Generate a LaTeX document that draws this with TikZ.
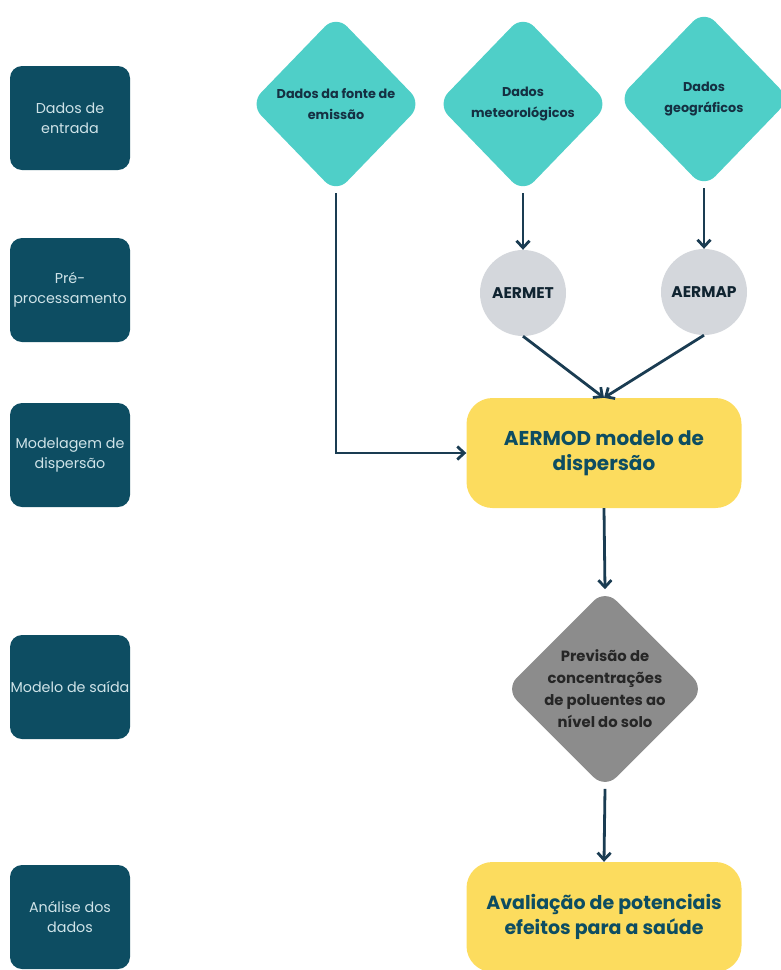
\documentclass[tikz,border=0pt]{standalone}
\usepackage{fontspec}
\setmainfont{Poppins}
\usetikzlibrary{shapes.geometric,arrows.meta,positioning}
\definecolor{faseazul}{HTML}{0D4D62}
\definecolor{fasetexto}{HTML}{CFE3E8}
\definecolor{turquesa}{HTML}{4FCFC8}
\definecolor{amarelo}{HTML}{FCDC5E}
\definecolor{cinzaclaro}{HTML}{D4D7DC}
\definecolor{cinza}{HTML}{8C8C8C}
\definecolor{seta}{HTML}{1A3C52}

\tikzset{fase/.style={rectangle,rounded corners=12pt,fill=faseazul,text=fasetexto,
           minimum width=120pt,minimum height=104pt,inner sep=0pt,align=center,
           font=\fontsize{14.3}{20}\selectfont},
         dado/.style={diamond,aspect=1,rounded corners=16pt,fill=turquesa,inner sep=0pt,
           minimum width=172pt,minimum height=178pt,align=center,text=seta!80!black,
           font=\bfseries\fontsize{12.8}{21}\selectfont},
         proc/.style={circle,fill=cinzaclaro,minimum size=86pt,inner sep=0pt,
           text=seta!60!black,font=\bfseries\fontsize{15.5}{17}\selectfont},
         modelo/.style={rectangle,rounded corners=26pt,fill=amarelo,minimum width=275pt,
           minimum height=110pt,inner sep=0pt,align=center,text=faseazul,
           font=\bfseries\fontsize{20}{25}\selectfont},
         previsao/.style={diamond,aspect=1,rounded corners=16pt,fill=cinza,inner sep=0pt,
           minimum width=182pt,minimum height=184pt,align=center,text=black!85,
           font=\bfseries\fontsize{14.8}{22}\selectfont},
         seta/.style={draw=seta,line width=2.8pt,-{Straight Barb[length=7pt,width=13pt]}}}

\begin{document}
\begin{tikzpicture}[x=1pt,y=-1pt]
  \useasboundingbox (0,0) rectangle (781,970);
  % etapas
  \foreach \y/\n/\t in {118/1/{Dados de\\entrada},290/2/{Pré-\\processamento},
      455/3/{Modelagem de\\dispersão},687/4/{Modelo de saída},917/5/{Análise dos\\dados}}
    {\node[fase] (e\n) at (70,\y) {\t};}
  % dados de entrada
  \node[dado] (d1) at (336,104) {Dados da fonte de\\emissão};
  \node[dado] (d2) at (523,104) {Dados\\meteorológicos};
  \node[dado] (d3) at (704,99) {Dados\\geográficos};
  \node[proc] (met) at (523,293) {AERMET};
  \node[proc] (map) at (704,292) {AERMAP};
  \node[modelo] (aermod) at (604,453) {AERMOD modelo de\\dispersão};
  \node[previsao] (prev) at (605,689) {Previsão de\\concentrações\\de poluentes ao\\nível do solo};
  \node[modelo,font=\bfseries\fontsize{19}{25}\selectfont] (aval) at (604,917) {Avaliação de potenciais\\efeitos para a saúde};
  % setas
  \draw[seta] (d1.south) |- (aermod.west);
  \draw[seta] (d2.south) -- (met.north);
  \draw[seta] (d3.south) -- (map.north);
  \draw[seta] (met.south) -- (aermod.north);
  \draw[seta] (map.south) -- (aermod.north);
  \draw[seta] (aermod.south) -- (prev.north);
  \draw[seta] (prev.south) -- (aval.north);
\end{tikzpicture}
\end{document}
